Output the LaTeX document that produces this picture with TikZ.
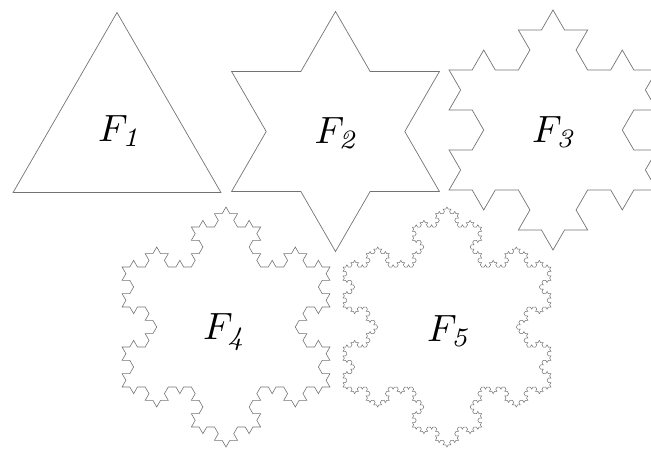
\documentclass[tikz,border=0pt]{standalone}
\newcount\kang
\def\kochF#1{\ifnum#1=0 \expandafter\kochbase\else\expandafter\kochrec\fi{#1}}
\def\kochbase#1{\xdef\kochpath{\kochpath -- ++(\the\kang:\kstep)}}
\def\kochrec#1{\expandafter\kochrecb\expandafter{\the\numexpr#1-1\relax}}
\def\kochrecb#1{\kochF{#1}\global\advance\kang by -60 \kochF{#1}\global\advance\kang by 120 \kochF{#1}\global\advance\kang by -60 \kochF{#1}}
\def\kochsnow#1#2{\gdef\kochpath{}\xdef\kstep{#2}\global\kang=0
  \kochF{#1}\global\advance\kang by 120 \kochF{#1}\global\advance\kang by 120 \kochF{#1}}
\tikzset{
  kochline/.style={draw={rgb,1:red,0.45;green,0.45;blue,0.45}, line width=0.7pt, line join=miter},
  flabel/.style={inner sep=0pt, scale=3.8}
}
\begin{document}
\begin{tikzpicture}[x=1pt,y=1pt]
\useasboundingbox (0,0) rectangle (651,448);
\clip (0,0) rectangle (651,448);
% F1
\draw[kochline] (13.08,255.5) -- (220.92,255.5) -- (117,435.5) -- cycle;
% F2
\kochsnow{1}{69.282pt}
\edef\tmp{\noexpand\draw[kochline] (231.58,256.5) \kochpath -- cycle;}\tmp
% F3
\kochsnow{2}{23.094pt}
\edef\tmp{\noexpand\draw[kochline] (449.08,258) \kochpath -- cycle;}\tmp
% F4
\kochsnow{3}{7.698pt}
\edef\tmp{\noexpand\draw[kochline, line width=0.6pt] (122.08,61) \kochpath -- cycle;}\tmp
% F5
\kochsnow{4}{2.566pt}
\edef\tmp{\noexpand\draw[kochline, line width=0.5pt] (343.08,61) \kochpath -- cycle;}\tmp
% labels
\node[flabel] (l1) at (121,317) {$F_{\mathit{1}}$};
\node[flabel] (l2) at (337.5,315) {$F_{\mathit{2}}$};
\node[flabel] (l3) at (555,316) {$F_{\mathit{3}}$};
\node[flabel] (l4) at (226,116) {$F_{\mathit{4}}$};
\node[flabel] (l5) at (450,117) {$F_{\mathit{5}}$};
\end{tikzpicture}
\end{document}
